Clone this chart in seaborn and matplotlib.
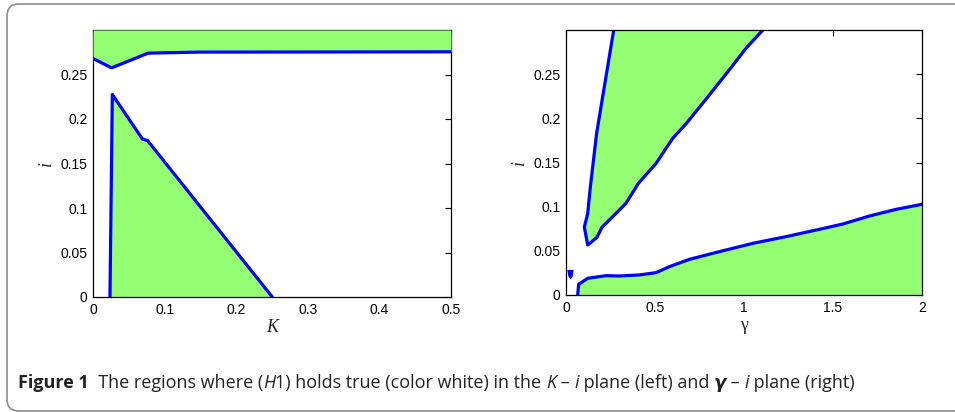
import matplotlib
matplotlib.use('Agg')
import matplotlib.pyplot as plt
import seaborn as sns
from matplotlib import font_manager
from matplotlib.font_manager import FontProperties
from matplotlib.patches import FancyBboxPatch
from matplotlib.offsetbox import TextArea, HPacker, AnnotationBbox

# Datos
# Panel izquierdo: plano K - i
k_top = [0.0, 0.026, 0.077, 0.15, 0.3, 0.5]
i_top = [0.268, 0.2575, 0.274, 0.2752, 0.2753, 0.2755]

k_tri = [0.0237, 0.027, 0.069, 0.0763, 0.2504]
i_tri = [0.0, 0.2275, 0.1775, 0.1757, 0.0]

# Panel derecho: plano gamma - i
g_wedge = [0.268, 0.172, 0.137, 0.122, 0.103, 0.122, 0.174, 0.202, 0.281,
           0.337, 0.407, 0.506, 0.6, 0.675, 0.806, 0.918, 1.012, 1.106]
i_wedge = [0.300, 0.183, 0.1227, 0.0925, 0.0767, 0.0566, 0.0653, 0.0767, 0.0925,
           0.1039, 0.1265, 0.149, 0.1775, 0.194, 0.2266, 0.255, 0.2795, 0.300]

g_low = [0.0656, 0.071, 0.122, 0.225, 0.3, 0.412, 0.506, 0.581, 0.694,
         0.862, 1.05, 1.237, 1.425, 1.556, 1.706, 1.856, 2.0]
i_low = [0.0, 0.0121, 0.0189, 0.0219, 0.0215, 0.0227, 0.0253, 0.0321, 0.0404,
         0.0491, 0.0585, 0.0661, 0.0744, 0.0804, 0.0895, 0.097, 0.1027]

g_dot = [0.014, 0.036, 0.032, 0.026, 0.019]
i_dot = [0.0272, 0.0272, 0.0215, 0.0195, 0.0215]

k_ticks = [0, 0.1, 0.2, 0.3, 0.4, 0.5]
g_ticks = [0, 0.5, 1, 1.5, 2]
i_ticks = [0, 0.05, 0.1, 0.15, 0.2, 0.25]

green = '#95ff73'
blue = '#0000ff'
lw = 2.3

sns.set_style('white')
plt.rcParams['font.family'] = ['Liberation Sans', 'DejaVu Sans']

# fuente fija para los ticks (Arial-like)
ttf = font_manager.fontManager.ttflist
reg = [f.fname for f in ttf if f.name == 'Liberation Sans' and f.weight in (400, 'normal')
       and f.style == 'normal']
tick_fp = FontProperties(fname=reg[0], size=10) if reg else FontProperties(family='DejaVu Sans', size=10)

fig = plt.figure(figsize=(9.55, 4.12), dpi=100)
ax1 = fig.add_axes([93 / 955, 115 / 412, 358 / 955, 267 / 412])
ax2 = fig.add_axes([566 / 955, 117 / 412, 356 / 955, 265 / 412])

# Panel izquierdo
ax1.fill_between(k_top, i_top, 0.3, color=green, lw=0, zorder=3)
ax1.fill(k_tri, i_tri, color=green, lw=0)
sns.lineplot(x=k_top, y=i_top, sort=False, estimator=None, color=blue, lw=lw, ax=ax1, zorder=4)
sns.lineplot(x=k_tri, y=i_tri, sort=False, estimator=None, color=blue, lw=lw, ax=ax1, zorder=4)
ax1.set_xlim(0, 0.5)
ax1.set_xticks(k_ticks)
ax1.set_xticklabels(['0', '0.1', '0.2', '0.3', '0.4', '0.5'], fontproperties=tick_fp)

# Panel derecho
ax2.fill(g_wedge, i_wedge, color=green, lw=0)
ax2.fill_between(g_low, i_low, 0, color=green, lw=0)
sns.lineplot(x=g_wedge, y=i_wedge, sort=False, estimator=None, color=blue, lw=lw, ax=ax2)
sns.lineplot(x=g_low, y=i_low, sort=False, estimator=None, color=blue, lw=lw, ax=ax2)
ax2.fill(g_dot, i_dot, color=blue, lw=1.5, edgecolor=blue)
ax2.set_xlim(0, 2)
ax2.set_xticks(g_ticks)
ax2.set_xticklabels(['0', '0.5', '1', '1.5', '2'], fontproperties=tick_fp)

for ax in (ax1, ax2):
    ax.set_ylim(0, 0.3)
    ax.set_yticks(i_ticks)
    ax.set_yticklabels(['0', '0.05', '0.1', '0.15', '0.2', '0.25'], fontproperties=tick_fp)
    ax.tick_params(direction='in', length=4, width=0.8, top=True, right=True,
                   colors='black', pad=4)
    for s in ax.spines.values():
        s.set_color('black')
        s.set_linewidth(0.9)
    ax.set_ylabel('i', family='Liberation Serif', style='italic', fontsize=13, labelpad=4)

ax1.set_xlabel('K', family='Liberation Serif', style='italic', fontsize=13, labelpad=2)
ax2.set_xlabel('γ', family='Liberation Serif', fontsize=13, labelpad=2)

# Marco redondeado
fig.patches.append(FancyBboxPatch((7, 1), 960, 407, boxstyle='round,pad=0,rounding_size=12',
                                  transform=None, fill=False, edgecolor='#8c8c8c', lw=1.2))

# Leyenda de la figura
cap_font = 'Open Sans'


def caption(fs):
    base = dict(family=[cap_font, 'DejaVu Sans'], size=fs, color='#222222')
    parts = [
        ('Figure 1', dict(base, weight='bold')),
        ('  The regions where (', base),
        ('H', dict(base, style='italic')),
        ('1) holds true (color white) in the ', base),
        ('K', dict(base, style='italic')),
        (' – ', base),
        ('i', dict(base, style='italic')),
        (' plane (left) and ', base),
        ('γ', dict(base, style='italic', weight='bold', family='DejaVu Sans')),
        (' – ', base),
        ('i', dict(base, style='italic')),
        (' plane (right)', base),
    ]
    box = HPacker(children=[TextArea(t, textprops=p) for t, p in parts], sep=0, align='baseline')
    ab = AnnotationBbox(box, (18 / 955, 29 / 412), xycoords='figure fraction',
                        box_alignment=(0, 0.5), frameon=False, pad=0)
    fig.add_artist(ab)
    return ab


fs = 11.0
ab = caption(fs)
fig.canvas.draw()
w = ab.get_window_extent().width
ab.remove()
fs = min(fs * 867 / w, 13.0)
caption(fs)

fig.savefig('out.png', dpi=100)
